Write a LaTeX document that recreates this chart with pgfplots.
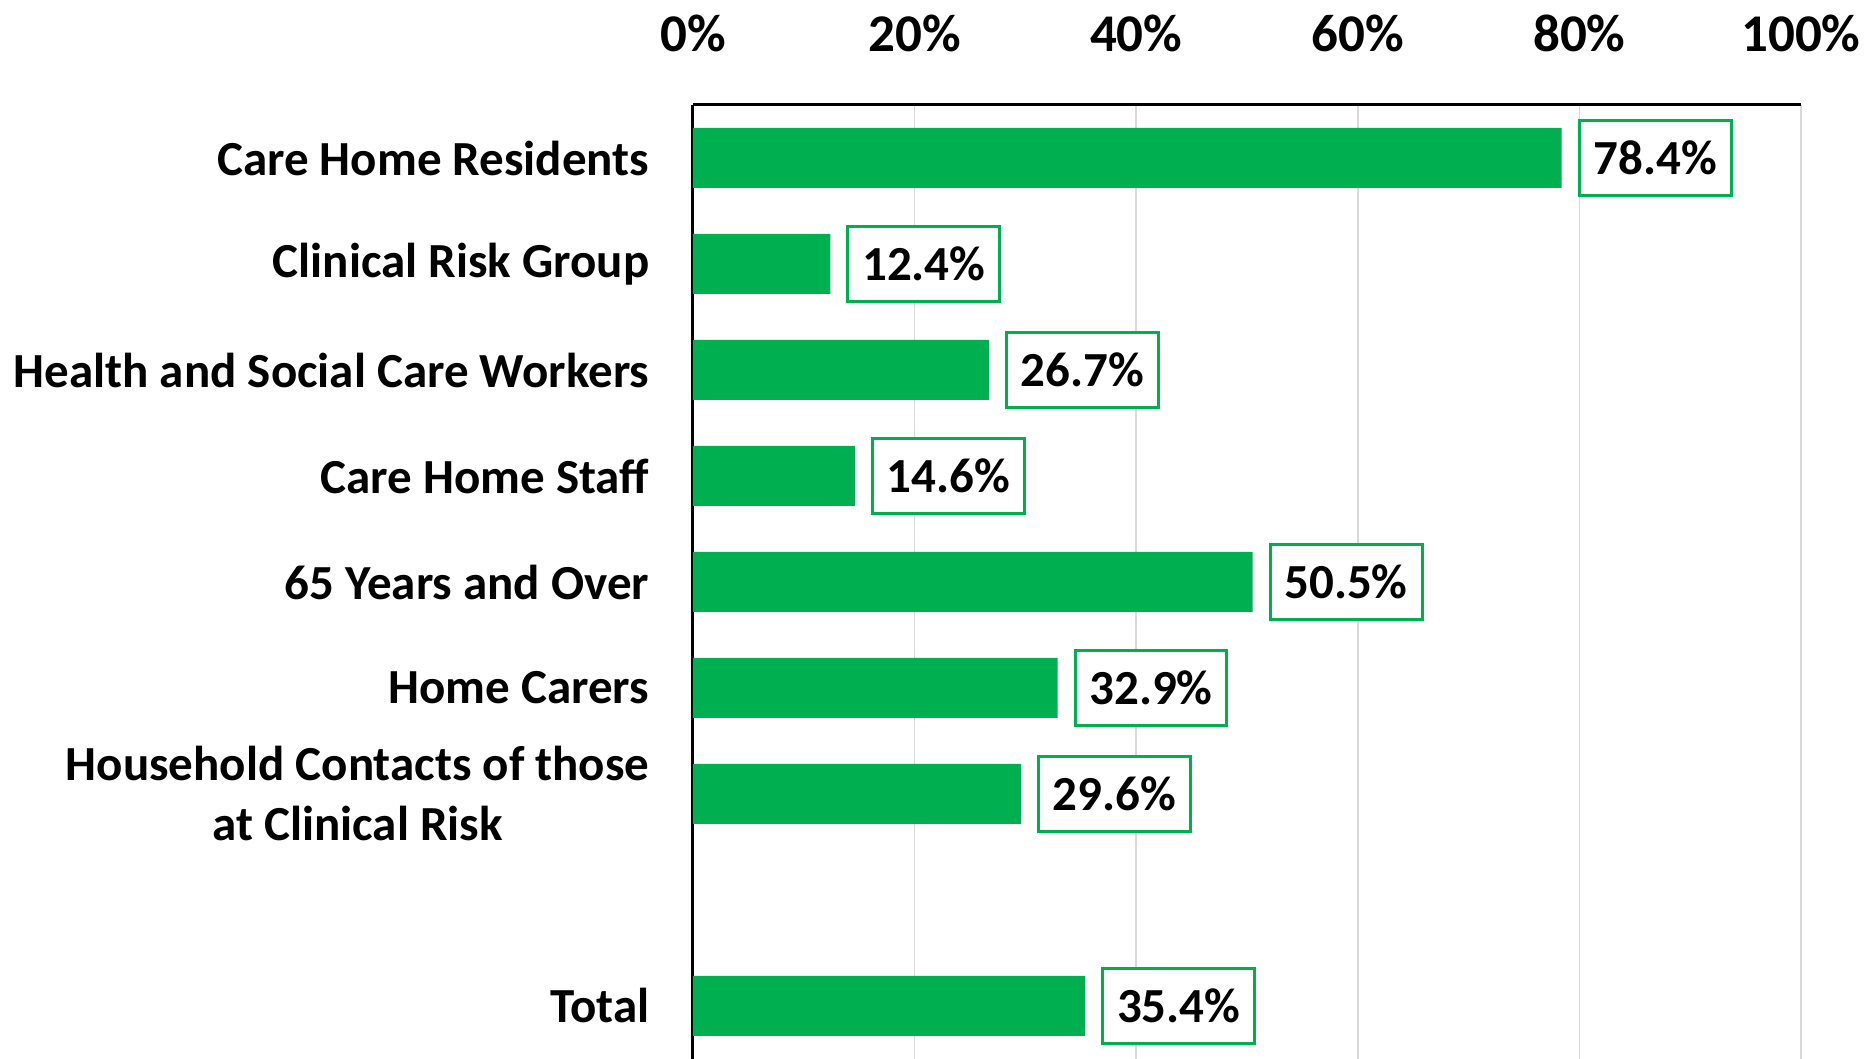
\documentclass[border=0pt]{standalone}
\usepackage{pgfplots}
\pgfplotsset{compat=1.18}
\usepackage{fontspec}
\setmainfont{Carlito}
\definecolor{xgreen}{HTML}{00B050}
\begin{document}
\begin{tikzpicture}
\begin{axis}[
  scale only axis, width=332.4pt, height=286.2pt,
  xbar, bar width=18pt, bar shift=0pt,
  xmin=0, xmax=100, ymin=-0.5, ymax=8.5,
  xtick={0,20,...,100},
  xticklabel pos=upper,
  xticklabel={\pgfmathprintnumber{\tick}\%},
  /pgf/number format/assume math mode=true,
  ytick={0,2,3,4,5,6,7,8},
  yticklabels={Total, {Household Contacts of those\\at Clinical Risk}, Home Carers, 65 Years and Over, Care Home Staff, Health and Social Care Workers, Clinical Risk Group, Care Home Residents},
  axis x line*=top, axis y line*=left,
  axis line style={-, black, line width=0.9pt},
  major tick length=0pt,
  xmajorgrids, major grid style={black!15, line width=0.45pt},
  xticklabel style={font=\bfseries\fontsize{15.9}{19}\selectfont, anchor=base, inner sep=0pt, yshift=15.9pt},
  yticklabel style={font=\bfseries\fontsize{14.7}{18}\selectfont, align=center, anchor=east, inner sep=0pt, xshift=-12.9pt},
  point meta=x,
  nodes near coords={\pgfmathprintnumber[fixed,fixed zerofill,precision=1]{\pgfplotspointmeta}\%},
  nodes near coords style={font=\bfseries\fontsize{14.7}{17}\selectfont, draw=xgreen, line width=0.9pt, fill=white, text=black, inner xsep=4.3pt, inner ysep=0pt, minimum height=22.5pt, anchor=west, xshift=4.8pt},
]
\addplot[fill=xgreen, draw=none] coordinates {
  (35.4,0) (29.6,2) (32.9,3) (50.5,4) (14.6,5) (26.7,6) (12.4,7) (78.4,8)
};
\end{axis}
\pgfresetboundingbox
\path[use as bounding box] ([xshift=-207.9pt]current axis.south west) rectangle ([xshift=20.1pt,yshift=31.5pt]current axis.north east);
\end{tikzpicture}
\end{document}
